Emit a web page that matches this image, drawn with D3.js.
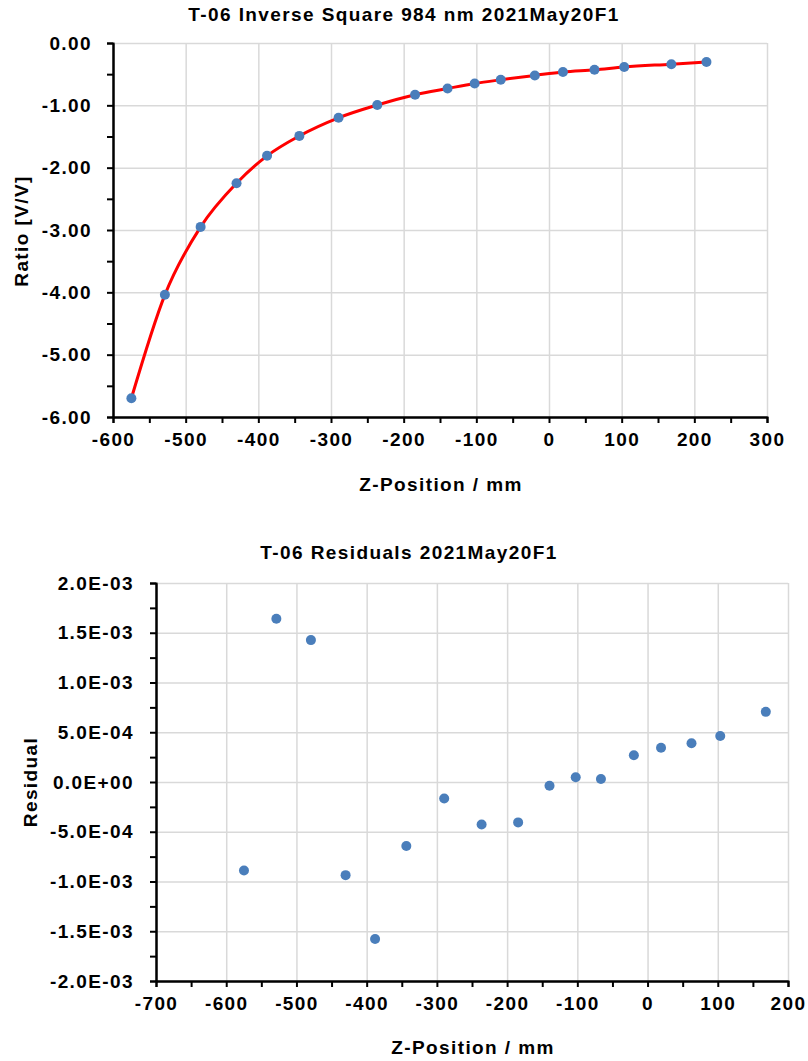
<!DOCTYPE html>
<html>
<head>
<meta charset="utf-8">
<script src="https://cdn.jsdelivr.net/npm/d3@7"></script>
<style>
  body { margin: 0; background: #fff; }
  svg { display: block; }
  text { font-family: "Liberation Sans", Arial, sans-serif; font-weight: bold; fill: #000; letter-spacing: 1.4px; }
  .tick text { font-family: "Liberation Sans", Arial, sans-serif; font-size: 19px; }
  .title, .label { font-size: 19px; }
  .grid line { stroke: #d9d9d9; stroke-width: 1.5; }
  .grid path { display: none; }
  .axis path, .axis line { stroke: #000; stroke-width: 2; }
</style>
</head>
<body>
<svg id="chart" width="808" height="1061"></svg>
<script>

/// DATA ////////////////////////////////////////////////////////////////////////////////

var zPosition = [-574.7, -528.6, -479.4, -430, -388, -343.5, -289.6, -236.3, -184.3,
                 -139.6, -102.3, -66.4, -19.5, 19.2, 62.6, 103.5, 168.4, 216.7];
var ratio = [-5.70, -4.04, -2.95, -2.25, -1.81, -1.49, -1.20, -0.995, -0.83,
             -0.73, -0.65, -0.59, -0.52, -0.465, -0.43, -0.385, -0.34, -0.305];

var residZ = zPosition.slice(0, 17);
var residual = [-8.89e-4, 1.641e-3, 1.426e-3, -9.36e-4, -1.577e-3, -6.44e-4, -1.66e-4,
                -4.28e-4, -4.06e-4, -3.7e-5, 4.7e-5, 3.0e-5, 2.69e-4, 3.45e-4, 3.9e-4,
                4.63e-4, 7.05e-4];

var topXTicks = [-600, -500, -400, -300, -200, -100, 0, 100, 200, 300];
var topYTicks = [0, -1, -2, -3, -4, -5, -6];
var botXTicks = [-700, -600, -500, -400, -300, -200, -100, 0, 100, 200];
var botYTicks = [2e-3, 1.5e-3, 1e-3, 5e-4, 0, -5e-4, -1e-3, -1.5e-3, -2e-3];

/////////////////////////////////////////////////////////////////////////////////////////

var svg = d3.select('#chart');
var POINT_COLOR = '#4a7ebb';

// d3 uses a unicode minus, the chart uses a plain hyphen
function hyphen(fmt) {
    return function (v) { return fmt(v).replace('\u2212', '-') };
}

function sciFormat(v) {
    var s = d3.format('.1e')(v).replace('\u2212', '-').split('e');
    var exp = +s[1];
    var sign = exp < 0 ? '-' : '+';
    return s[0] + 'E' + sign + String(Math.abs(exp)).padStart(2, '0');
}

// gridlines + axes (major and minor ticks) for one panel
function drawFrame(g, x, y, W, H, xTicks, yTicks, xMinor, yMinor, yFormat, yPad) {
    // gridlines
    g.append('g').attr('class', 'grid')
        .call(d3.axisLeft(y).tickValues(yTicks).tickSize(-W).tickFormat(''));
    g.append('g').attr('class', 'grid')
        .attr('transform', 'translate(0,' + H + ')')
        .call(d3.axisBottom(x).tickValues(xTicks).tickSize(-H).tickFormat(''));

    // minor ticks
    g.append('g').attr('class', 'axis')
        .call(d3.axisLeft(y).tickValues(yMinor).tickSize(6).tickFormat(''));
    g.append('g').attr('class', 'axis')
        .attr('transform', 'translate(0,' + H + ')')
        .call(d3.axisBottom(x).tickValues(xMinor).tickSize(6).tickFormat(''));

    // major axes
    g.append('g').attr('class', 'axis')
        .call(d3.axisLeft(y).tickValues(yTicks).tickSize(6).tickSizeOuter(0)
            .tickPadding(yPad).tickFormat(yFormat));
    g.append('g').attr('class', 'axis')
        .attr('transform', 'translate(0,' + H + ')')
        .call(d3.axisBottom(x).tickValues(xTicks).tickSize(6).tickSizeOuter(0)
            .tickPadding(10).tickFormat(hyphen(d3.format('d'))));
}

/// TOP PANEL: INVERSE SQUARE ///////////////////////////////////////////////////////////

var T_LEFT = 113, T_TOP = 43, T_W = 654, T_H = 374;
var top_g = svg.append('g').attr('transform', 'translate(' + T_LEFT + ',' + T_TOP + ')');

var top_x = d3.scaleLinear().domain([-600, 300]).range([0, T_W]);
var top_y = d3.scaleLinear().domain([-6, 0]).range([T_H, 0]);

drawFrame(top_g, top_x, top_y, T_W, T_H, topXTicks, topYTicks,
    d3.range(-550, 300, 100), d3.range(-5.5, 0, 1), hyphen(d3.format('.2f')), 15);

var fitLine = d3.line()
    .x(function (d, i) { return top_x(zPosition[i]) })
    .y(function (d) { return top_y(d) })
    .curve(d3.curveMonotoneX);

top_g.append('path')
    .datum(ratio)
    .attr('d', fitLine)
    .attr('fill', 'none')
    .attr('stroke', '#ff0000')
    .attr('stroke-width', 3);

top_g.selectAll('circle')
    .data(ratio)
    .enter()
    .append('circle')
        .attr('cx', function (d, i) { return top_x(zPosition[i]) })
        .attr('cy', function (d) { return top_y(d) })
        .attr('r', 5)
        .attr('fill', POINT_COLOR);

svg.append('text').attr('class', 'title')
    .attr('x', 404).attr('y', 21).attr('text-anchor', 'middle')
    .text('T-06 Inverse Square 984 nm 2021May20F1');

svg.append('text').attr('class', 'label')
    .attr('x', 441).attr('y', 491).attr('text-anchor', 'middle')
    .text('Z-Position / mm');

svg.append('text').attr('class', 'label')
    .attr('transform', 'translate(28,231) rotate(-90)')
    .attr('text-anchor', 'middle')
    .text('Ratio [V/V]');

/// BOTTOM PANEL: RESIDUALS /////////////////////////////////////////////////////////////

var B_LEFT = 156, B_TOP = 583, B_W = 632, B_H = 398;
var bot_g = svg.append('g').attr('transform', 'translate(' + B_LEFT + ',' + B_TOP + ')');

var bot_x = d3.scaleLinear().domain([-700, 200]).range([0, B_W]);
var bot_y = d3.scaleLinear().domain([-2e-3, 2e-3]).range([B_H, 0]);

drawFrame(bot_g, bot_x, bot_y, B_W, B_H, botXTicks, botYTicks,
    d3.range(-650, 200, 100), d3.range(-1.75e-3, 2e-3, 5e-4), sciFormat, 16);

bot_g.selectAll('circle')
    .data(residual)
    .enter()
    .append('circle')
        .attr('cx', function (d, i) { return bot_x(residZ[i]) })
        .attr('cy', function (d) { return bot_y(d) })
        .attr('r', 5)
        .attr('fill', POINT_COLOR);

svg.append('text').attr('class', 'title')
    .attr('x', 409).attr('y', 559).attr('text-anchor', 'middle')
    .text('T-06 Residuals 2021May20F1');

svg.append('text').attr('class', 'label')
    .attr('x', 473).attr('y', 1054).attr('text-anchor', 'middle')
    .text('Z-Position / mm');

svg.append('text').attr('class', 'label')
    .attr('transform', 'translate(37,782) rotate(-90)')
    .attr('text-anchor', 'middle')
    .text('Residual');

</script>
</body>
</html>
